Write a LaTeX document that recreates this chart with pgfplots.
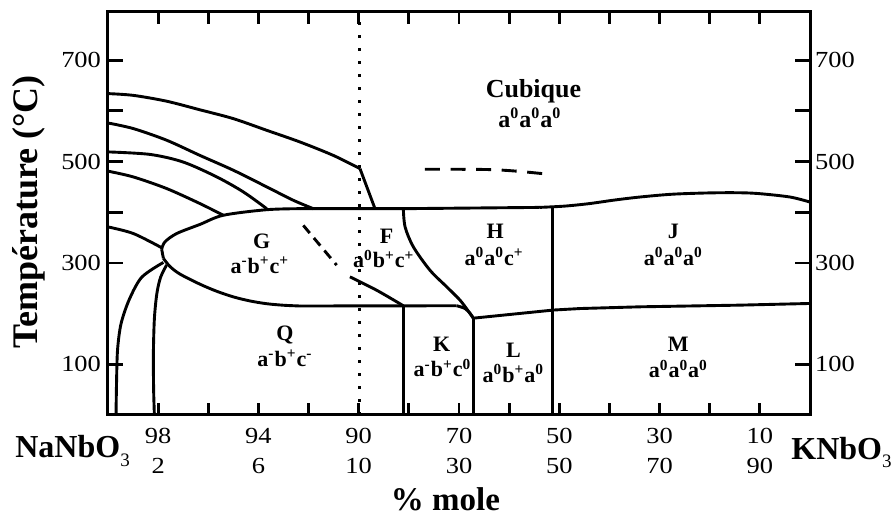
\documentclass[border=0pt]{standalone}
\usepackage{fontspec}
\setmainfont{Liberation Serif}
\newfontfamily\tickfont{Liberation Serif}[FakeStretch=1.15]
\usepackage{pgfplots}
\pgfplotsset{compat=1.18}
\newcommand{\su}[1]{\textsuperscript{#1}}
\newcommand{\subthree}{\raisebox{-0.28em}{\fontsize{9.5}{10}\selectfont\mdseries 3}}
\begin{document}
\begin{tikzpicture}
\path[use as bounding box] (-54pt,-51.5pt) rectangle (393.5pt,207.5pt);
\pgfplotsset{
  curve/.style={black, line width=1.45pt, line join=round, no marks},
}
\tikzset{
  lab/.style={anchor=base, font=\bfseries\fontsize{11}{12}\selectfont, inner sep=0pt},
}
% main axis: frame, x ticks, data
\begin{axis}[
  scale only axis, width=351pt, height=201.5pt,
  xmin=0, xmax=28, ymin=0, ymax=795,
  clip=false,
  axis line style={line width=1.5pt},
  tick align=inside,
  every tick/.style={black, line width=1.4pt},
  major tick length=5.8pt, minor tick length=5.8pt,
  xtick pos=both,
  xtick={2,6,10,14,18,22,26},
  xticklabels={{98\\2},{94\\6},{90\\10},{70\\30},{50\\50},{30\\70},{10\\90}},
  minor xtick={4,8,12,16,20,24},
  xticklabel style={align=center, font=\tickfont\fontsize{11.5}{15}\selectfont, yshift=-3pt},
  ytick=\empty,
  xlabel={\% mole},
  xlabel style={at={(axis description cs:0.4808,-0.2382)}, anchor=base, font=\bfseries\fontsize{16.5}{18}\selectfont, inner sep=0pt},
  ylabel={Température (°C)},
  ylabel style={at={(axis description cs:-0.1011,0.504)}, anchor=base, rotate=0, font=\bfseries\fontsize{18}{20}\selectfont, inner sep=0pt},
]
% dotted line at 10 %
\addplot[black, line width=1.5pt, dash pattern=on 1.5pt off 5pt, no marks] coordinates {(10.05,0) (10.05,795)};
% upper left curves
\addplot[curve, smooth] coordinates {(0,634)(1.01,630.5)(2.34,619)(3.67,602)(5.0,584.6)(6.33,561.6)(7.66,538.5)(8.99,512)(10.05,486)};
\addplot[curve] coordinates {(10.05,486)(10.65,407)};
\addplot[curve, smooth] coordinates {(0,576)(1.01,565)(2.34,542)(3.67,512)(5.0,482.8)(6.33,450)(7.39,423.6)(8.19,407)};
\addplot[curve, smooth] coordinates {(0,519)(1.68,514)(3.0,499)(4.34,469.6)(5.4,440)(6.33,407)};
\addplot[curve, smooth] coordinates {(0,481)(1.01,469.6)(2.34,446.7)(3.67,417)(4.6,394)};
% line into tip
\addplot[curve, smooth] coordinates {(0,371)(1.01,358)(2.14,330)};
% ellipse upper arc
\addplot[curve, smooth] coordinates {(2.14,327)(2.27,341.5)(2.74,358)(3.67,376)(4.6,394)(6.33,405)(7.66,407)};
% tip notch
\addplot[curve] coordinates {(2.14,327)(2.21,309)};
% ellipse lower arc
\addplot[curve, smooth] coordinates {(2.21,309)(2.47,293)(2.87,278)(3.67,258)(4.34,244)(5.0,233)(5.66,225)(6.33,219.5)(7.0,216.5)(7.66,215)};
% top horizontal line
\addplot[curve] coordinates {(7.66,407)(11.78,407)(17.2,409.5)};
% J upper boundary
\addplot[curve, smooth] coordinates {(17.2,409.5)(18.2,412)(19.2,417)(20.2,424)(21.22,430)(22.5,435.5)(23.9,438)(25.0,438.5)(25.9,437)(27.2,430)(28,420)};
% bottom line G/Q and K
\addplot[curve] coordinates {(7.66,215)(13.91,215.5)};
\addplot[curve, smooth] coordinates {(13.91,215.5)(14.24,210)(14.45,200)(14.57,191)};
% J/M boundary
\addplot[curve] coordinates {(14.57,191)(17.76,207)(18.83,210)(21.22,213.4)(25.2,216.7)(28,220)};
% F/H boundary
\addplot[curve, smooth] coordinates {(11.78,407)(11.85,371)(12.18,331.6)(12.84,285.7)(13.51,252.8)(14.04,226.6)(14.4,203)(14.57,191)};
% F lower boundary
\addplot[curve, smooth] coordinates {(9.65,272.5)(10.72,246)(11.78,215.5)};
% verticals
\addplot[curve] coordinates {(11.78,0)(11.78,215.5)};
\addplot[curve] coordinates {(14.57,0)(14.57,191)};
\addplot[curve] coordinates {(17.74,0)(17.74,409.5)};
% bottom-left curves
\addplot[curve, smooth] coordinates {(2.21,301)(1.35,272)(0.85,228)(0.52,180)(0.38,128)(0.34,62)(0.32,0)};
\addplot[curve, smooth] coordinates {(2.34,296)(2.1,272)(1.95,240)(1.85,190)(1.81,120)(1.82,50)(1.85,0)};
% dashed lines
\addplot[black, line width=1.45pt, dash pattern=on 5pt off 3.2pt, no marks] coordinates {(7.79,374)(9.12,295.6)};
\addplot[black, line width=1.45pt, dash pattern=on 7.5pt off 5.3pt, no marks, smooth] coordinates {(12.64,484.7)(14.0,484.7)(15.3,484)(16.3,481)(17.36,476)};
% region labels
\node[lab, font=\bfseries\fontsize{13}{14}\selectfont] at (axis cs:16.97,626.6) {Cubique};
\node[lab, font=\bfseries\fontsize{12}{13}\selectfont] at (axis cs:16.83,567.5) {a\su{0}a\su{0}a\su{0}};
\node[lab] at (axis cs:6.13,329) {G};
\node[lab] at (axis cs:6.06,279) {a\su{-}b\su{+}c\su{+}};
\node[lab] at (axis cs:11.11,338) {F};
\node[lab] at (axis cs:11.0,290) {a\su{0}b\su{+}c\su{+}};
\node[lab] at (axis cs:15.44,348) {H};
\node[lab] at (axis cs:15.4,295.6) {a\su{0}a\su{0}c\su{+}};
\node[lab] at (axis cs:22.55,348) {J};
\node[lab] at (axis cs:22.55,295.6) {a\su{0}a\su{0}a\su{0}};
\node[lab] at (axis cs:7.06,147.8) {Q};
\node[lab] at (axis cs:7.06,95) {a\su{-}b\su{+}c\su{-}};
\node[lab] at (axis cs:13.31,124.8) {K};
\node[lab] at (axis cs:13.34,75) {a\su{-}b\su{+}c\su{0}};
\node[lab] at (axis cs:16.17,113.3) {L};
\node[lab] at (axis cs:16.17,65) {a\su{0}b\su{+}a\su{0}};
\node[lab] at (axis cs:22.75,124.8) {M};
\node[lab] at (axis cs:22.75,73) {a\su{0}a\su{0}a\su{0}};
% end-member labels
\node[anchor=base west, inner sep=0pt, font=\bfseries\fontsize{16}{18}\selectfont] at (axis description cs:-0.1325,-0.1067) {NaNbO\subthree};
\node[anchor=base west, inner sep=0pt, font=\bfseries\fontsize{16}{18}\selectfont] at (axis description cs:0.9730,-0.1092) {KNbO\subthree};
\end{axis}
% y ticks both sides, labels left
\begin{axis}[
  scale only axis, width=351pt, height=201.5pt,
  xmin=0, xmax=28, ymin=0, ymax=795,
  hide x axis, y axis line style={draw=none},
  tick align=inside,
  every tick/.style={black, line width=1.4pt},
  major tick length=7.5pt, minor tick length=7.5pt,
  ytick pos=both,
  ytick={100,300,500,700},
  yticklabels={100,300,500,700},
  minor ytick={400,600},
  yticklabel style={font=\tickfont\fontsize{11.5}{14}\selectfont},
]
\end{axis}
% labels right
\begin{axis}[
  scale only axis, width=351pt, height=201.5pt,
  xmin=0, xmax=28, ymin=0, ymax=795,
  hide x axis, y axis line style={draw=none},
  major tick length=0pt,
  ytick pos=right, yticklabel pos=right,
  ytick={100,300,500,700},
  yticklabels={100,300,500,700},
  yticklabel style={font=\tickfont\fontsize{11.5}{14}\selectfont, xshift=-1pt},
]
\end{axis}
\end{tikzpicture}
\end{document}
